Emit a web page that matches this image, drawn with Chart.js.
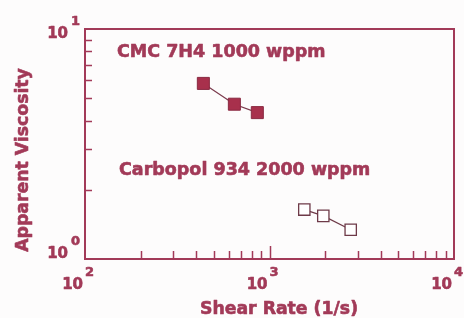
<!DOCTYPE html>
<html>
<head>
<meta charset="utf-8">
<script src="https://cdn.jsdelivr.net/npm/chart.js@4/dist/chart.umd.min.js"></script>
<style>
  html, body { margin: 0; padding: 0; background: #fdfcfc; }
  #wrap { width: 464px; height: 318px; position: relative; }
</style>
</head>
<body>
<div id="wrap"><canvas id="visc"></canvas></div>
<script>
// values
const cmcRate = [438, 645, 859];
const cmcVisc = [5.8, 4.71, 4.33];
const carbRate = [1544, 1957, 2755];
const carbVisc = [1.64, 1.54, 1.34];

const xDecades = [100, 1000, 10000];
const yDecades = [1, 10];
const xTitle = 'Shear Rate (1/s)';
const yTitle = 'Apparent Viscosity';
const cmcLabel = 'CMC 7H4 1000 wppm';
const carbLabel = 'Carbopol 934 2000 wppm';

const maroon = '#a23a58';
const font = '"DejaVu Sans", sans-serif';

function toPoints(xs, ys) {
  return xs.map((x, i) => ({ x: x, y: ys[i] }));
}

// heavy text: fill plus a thin stroke of the same colour
function boldText(ctx, txt, x, y) {
  ctx.fillText(txt, x, y);
  ctx.strokeText(txt, x, y);
}

// frame, inward ticks, decade labels and texts
const paperAxes = {
  id: 'paperAxes',
  afterDraw(chart) {
    const ctx = chart.ctx;
    const a = chart.chartArea;
    const xs = chart.scales.x;
    const ys = chart.scales.y;
    ctx.save();
    ctx.strokeStyle = maroon;
    ctx.fillStyle = maroon;
    ctx.lineWidth = 2;
    ctx.strokeRect(a.left, a.top, a.right - a.left, a.bottom - a.top);

    ctx.lineWidth = 1.5;
    ctx.beginPath();
    // y minor ticks
    for (let v = 2; v <= 9; v++) {
      const py = Math.round(ys.getPixelForValue(v)) + 0.5;
      ctx.moveTo(a.left, py);
      ctx.lineTo(a.left + 7, py);
    }
    // x ticks
    for (let d = 100; d < 10000; d *= 10) {
      for (let m = 1; m <= 9; m++) {
        const v = d * m;
        if (v === 100) continue;
        const px = Math.round(xs.getPixelForValue(v)) + 0.5;
        ctx.moveTo(px, a.bottom);
        ctx.lineTo(px, a.bottom - (m === 1 ? 13 : 8));
      }
    }
    ctx.stroke();

    ctx.lineWidth = 0.6;
    ctx.lineJoin = 'round';
    ctx.textBaseline = 'alphabetic';

    // decade labels
    xDecades.forEach(v => {
      const px = xs.getPixelForValue(v);
      ctx.font = 'bold 15px ' + font;
      ctx.textAlign = 'right';
      boldText(ctx, '10', px - 2, a.bottom + 30);
      ctx.font = 'bold 13px ' + font;
      ctx.textAlign = 'left';
      boldText(ctx, String(Math.round(Math.log10(v))), px, a.bottom + 17);
    });
    yDecades.forEach(v => {
      const py = ys.getPixelForValue(v);
      const base = v === 10 ? py + 9 : py - 1;
      ctx.font = 'bold 15px ' + font;
      ctx.textAlign = 'right';
      boldText(ctx, '10', a.left - 17, base);
      ctx.font = 'bold 13px ' + font;
      ctx.textAlign = 'left';
      boldText(ctx, String(Math.round(Math.log10(v))), a.left - 14, base - 13);
    });

    // axis titles
    ctx.font = 'bold 17.3px ' + font;
    ctx.textAlign = 'center';
    boldText(ctx, xTitle, 279, 314);
    ctx.save();
    ctx.translate(28, 160);
    ctx.rotate(-Math.PI / 2);
    boldText(ctx, yTitle, 0, 0);
    ctx.restore();

    // series labels
    ctx.font = 'bold 17.5px ' + font;
    ctx.textAlign = 'left';
    boldText(ctx, cmcLabel, 117, 57);
    boldText(ctx, carbLabel, 119, 175);
    ctx.restore();
  }
};

new Chart(document.getElementById('visc'), {
  type: 'scatter',
  data: {
    datasets: [
      {
        label: cmcLabel,
        data: toPoints(cmcRate, cmcVisc),
        showLine: true,
        borderColor: '#7a3a4c',
        borderWidth: 1.2,
        pointStyle: 'rect',
        pointRadius: 8.5,
        pointBackgroundColor: '#a8304c',
        pointBorderColor: '#8a2a42',
        pointBorderWidth: 1
      },
      {
        label: carbLabel,
        data: toPoints(carbRate, carbVisc),
        showLine: true,
        borderColor: '#6e3a48',
        borderWidth: 1.2,
        pointStyle: 'rect',
        pointRadius: 8,
        pointBackgroundColor: '#ffffff',
        pointBorderColor: '#6e3a48',
        pointBorderWidth: 1.3
      }
    ]
  },
  options: {
    responsive: true,
    maintainAspectRatio: false,
    animation: false,
    layout: { padding: { left: 85, right: 10, top: 29, bottom: 59 } },
    plugins: {
      legend: { display: false },
      tooltip: { enabled: false }
    },
    scales: {
      x: { type: 'logarithmic', min: 100, max: 10000, display: false },
      y: { type: 'logarithmic', min: 1, max: 10, display: false }
    }
  },
  plugins: [paperAxes]
});
</script>
</body>
</html>
